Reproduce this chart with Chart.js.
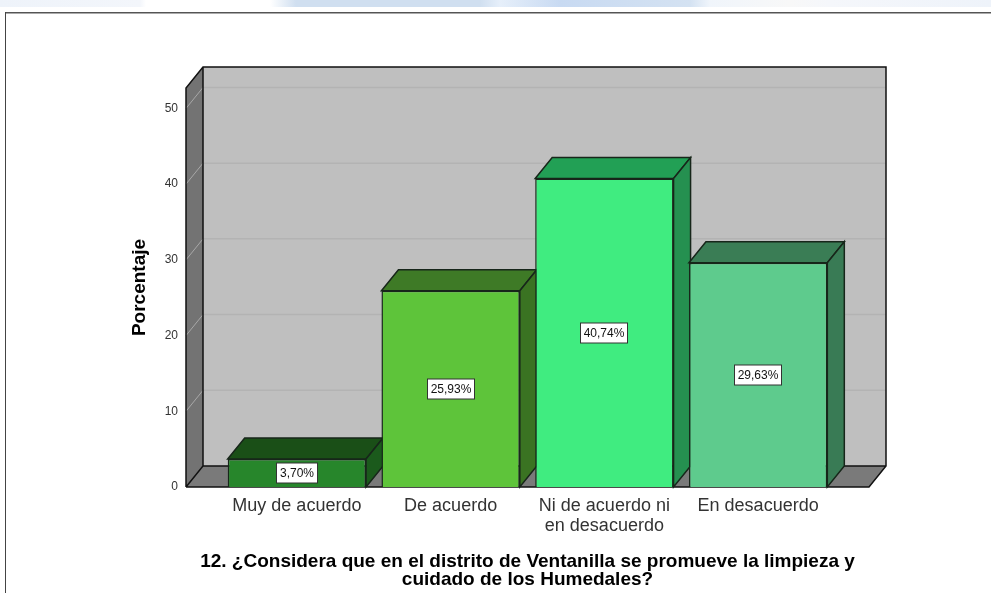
<!DOCTYPE html>
<html><head><meta charset="utf-8">
<script src="https://cdn.jsdelivr.net/npm/chart.js@4"></script>
<style>
html,body{margin:0;padding:0;background:#fff;overflow:hidden}
#wrap{position:relative;width:991px;height:593px}
#banner{position:absolute;left:0;top:0;width:991px;height:7px;background:linear-gradient(90deg,#eef3fa 0,#f3f6fb 140px,#fff 146px,#fff 270px,#d0dff0 296px,#d0dff0 480px,#e6effa 500px,#c8daf2 560px,#d4e2f2 690px,#f0f5fb 710px,#f8f8f8 790px,#f5f7fb 830px,#eef3fa 991px)}
#frameT{position:absolute;left:5px;top:12px;width:986px;height:1px;background:#555;box-shadow:0 1px 0 #aaa}
#frameL{position:absolute;left:5px;top:12px;width:1px;height:581px;background:#444}
canvas{position:absolute;left:0;top:0}
</style></head><body>
<div id="wrap"><div id="banner"></div><canvas id="c" width="991" height="593"></canvas><div id="frameT"></div><div id="frameL"></div></div>
<script>
const categories = ["Muy de acuerdo","De acuerdo",["Ni de acuerdo ni","en desacuerdo"],"En desacuerdo"];
const values = [3.70,25.93,40.74,29.63];
const valueLabels = ["3,70%","25,93%","40,74%","29,63%"];
const frontColors = ["#27862b","#5ec43a","#40ec80","#5ecb8d"];
const topColors = ["#1a4f17","#3e7a26","#22a055","#3a7d55"];
const sideColors = ["#1b5a1c","#3a7322","#259050","#397b55"];
const tickValues = [0,10,20,30,40,50];
const axisTitleY = "Porcentaje";
const axisTitleX = ["12. ¿Considera que en el distrito de Ventanilla se promueve la limpieza y","cuidado de los Humedales?"];
const DX=17, DY=-21, EXT=34;

function poly(ctx,pts,fill,stroke,lw){
  ctx.beginPath();pts.forEach((p,i)=>i?ctx.lineTo(p[0],p[1]):ctx.moveTo(p[0],p[1]));ctx.closePath();
  if(fill){ctx.fillStyle=fill;ctx.fill();}
  if(stroke){ctx.strokeStyle=stroke;ctx.lineWidth=lw||1.5;ctx.stroke();}
}
const box3d={
  id:'box3d',
  beforeDatasetsDraw(chart){
    const {ctx,chartArea:a,scales:{y}}=chart;
    const L=a.left-EXT,R=a.right+EXT,T=a.top,B=a.bottom;
    ctx.save();
    poly(ctx,[[L+DX,T+DY],[R+DX,T+DY],[R+DX,B+DY],[L+DX,B+DY]],'#bfbfbf');
    poly(ctx,[[L,T],[L+DX,T+DY],[L+DX,B+DY],[L,B]],'#737373');
    poly(ctx,[[L,B],[L+DX,B+DY],[R+DX,B+DY],[R,B]],'#7a7a7a');
    y.ticks.forEach(t=>{
      if(t.value===0)return;
      const py=y.getPixelForValue(t.value);
      ctx.lineWidth=1.5;
      ctx.strokeStyle='#b3b3b3';
      ctx.beginPath();ctx.moveTo(L+DX,py+DY);ctx.lineTo(R+DX,py+DY);ctx.stroke();
      ctx.strokeStyle='#a8a8a8';ctx.lineWidth=1;
      ctx.beginPath();ctx.moveTo(L,py);ctx.lineTo(L+DX,py+DY);ctx.stroke();
    });
    ctx.strokeStyle='#111';ctx.lineWidth=1.5;
    ctx.beginPath();
    ctx.moveTo(L,B);ctx.lineTo(L,T);ctx.lineTo(L+DX,T+DY);ctx.lineTo(R+DX,T+DY);ctx.lineTo(R+DX,B+DY);ctx.lineTo(R,B);ctx.lineTo(L,B);
    ctx.moveTo(L+DX,T+DY);ctx.lineTo(L+DX,B+DY);ctx.lineTo(L,B);
    ctx.moveTo(L+DX,B+DY);ctx.lineTo(R+DX,B+DY);
    ctx.stroke();
    const meta=chart.getDatasetMeta(0);
    meta.data.forEach((el,i)=>{
      const xl=el.x-el.width/2,xr=el.x+el.width/2,yt=el.y,yb=el.base;
      poly(ctx,[[xl,yt],[xl+DX,yt+DY],[xr+DX,yt+DY],[xr,yt]],topColors[i],'#17261a',1.5);
      poly(ctx,[[xr,yt],[xr+DX,yt+DY],[xr+DX,yb+DY],[xr,yb]],sideColors[i],'#17261a',1.5);
    });
    ctx.restore();
  },
  afterDatasetsDraw(chart){
    const {ctx,chartArea:a}=chart;
    const meta=chart.getDatasetMeta(0);
    ctx.save();
    ctx.font='12px "Liberation Sans"';
    ctx.textAlign='center';ctx.textBaseline='middle';
    meta.data.forEach((el,i)=>{
      const cy=Math.round((el.y+el.base)/2), cx=Math.round(el.x), w=Math.ceil(ctx.measureText(valueLabels[i]).width)+6, h=20;
      ctx.fillStyle='#fff';ctx.fillRect(cx-w/2,cy-h/2,w,h);
      ctx.strokeStyle='#333';ctx.lineWidth=1;ctx.strokeRect(cx-w/2,cy-h/2,w,h);
      ctx.fillStyle='#111';ctx.fillText(valueLabels[i],cx,cy+0.5);
    });
    ctx.font='bold 19px "Liberation Sans"';
    ctx.fillStyle='#000';
    axisTitleX.forEach((line,i)=>ctx.fillText(line,(a.left+a.right)/2,a.bottom+75+i*18));
    ctx.restore();
  }
};
new Chart(document.getElementById('c'),{
  type:'bar',
  data:{labels:categories,datasets:[{data:values,backgroundColor:frontColors,borderColor:'#17261a',borderWidth:1.5,barPercentage:0.9,categoryPercentage:1}]},
  plugins:[box3d],
  options:{
    responsive:false,animation:false,
    layout:{padding:{left:0,right:156,top:88,bottom:3}},
    plugins:{legend:{display:false},tooltip:{enabled:false},title:{display:false}},
    scales:{
      x:{
        grid:{display:false,drawTicks:false},border:{display:false},
        ticks:{padding:9,color:'#333',font:{family:'"Liberation Sans"',size:18,lineHeight:1.1},maxRotation:0,autoSkip:false},
        afterFit(s){s.height=103;}
      },
      y:{
        min:0,max:52.7,
        grid:{display:false,drawTicks:false},border:{display:false},
        afterBuildTicks(s){s.ticks=tickValues.map(v=>({value:v}));},
        ticks:{padding:42,color:'#333',font:{family:'"Liberation Sans"',size:12},callback:v=>String(v)},
        title:{display:true,text:axisTitleY,color:'#000',font:{family:'"Liberation Sans"',size:19,weight:'bold'},padding:{top:128,bottom:0}},
        afterFit(s){s.width=220;}
      }
    }
  }
});
</script>
</body></html>
